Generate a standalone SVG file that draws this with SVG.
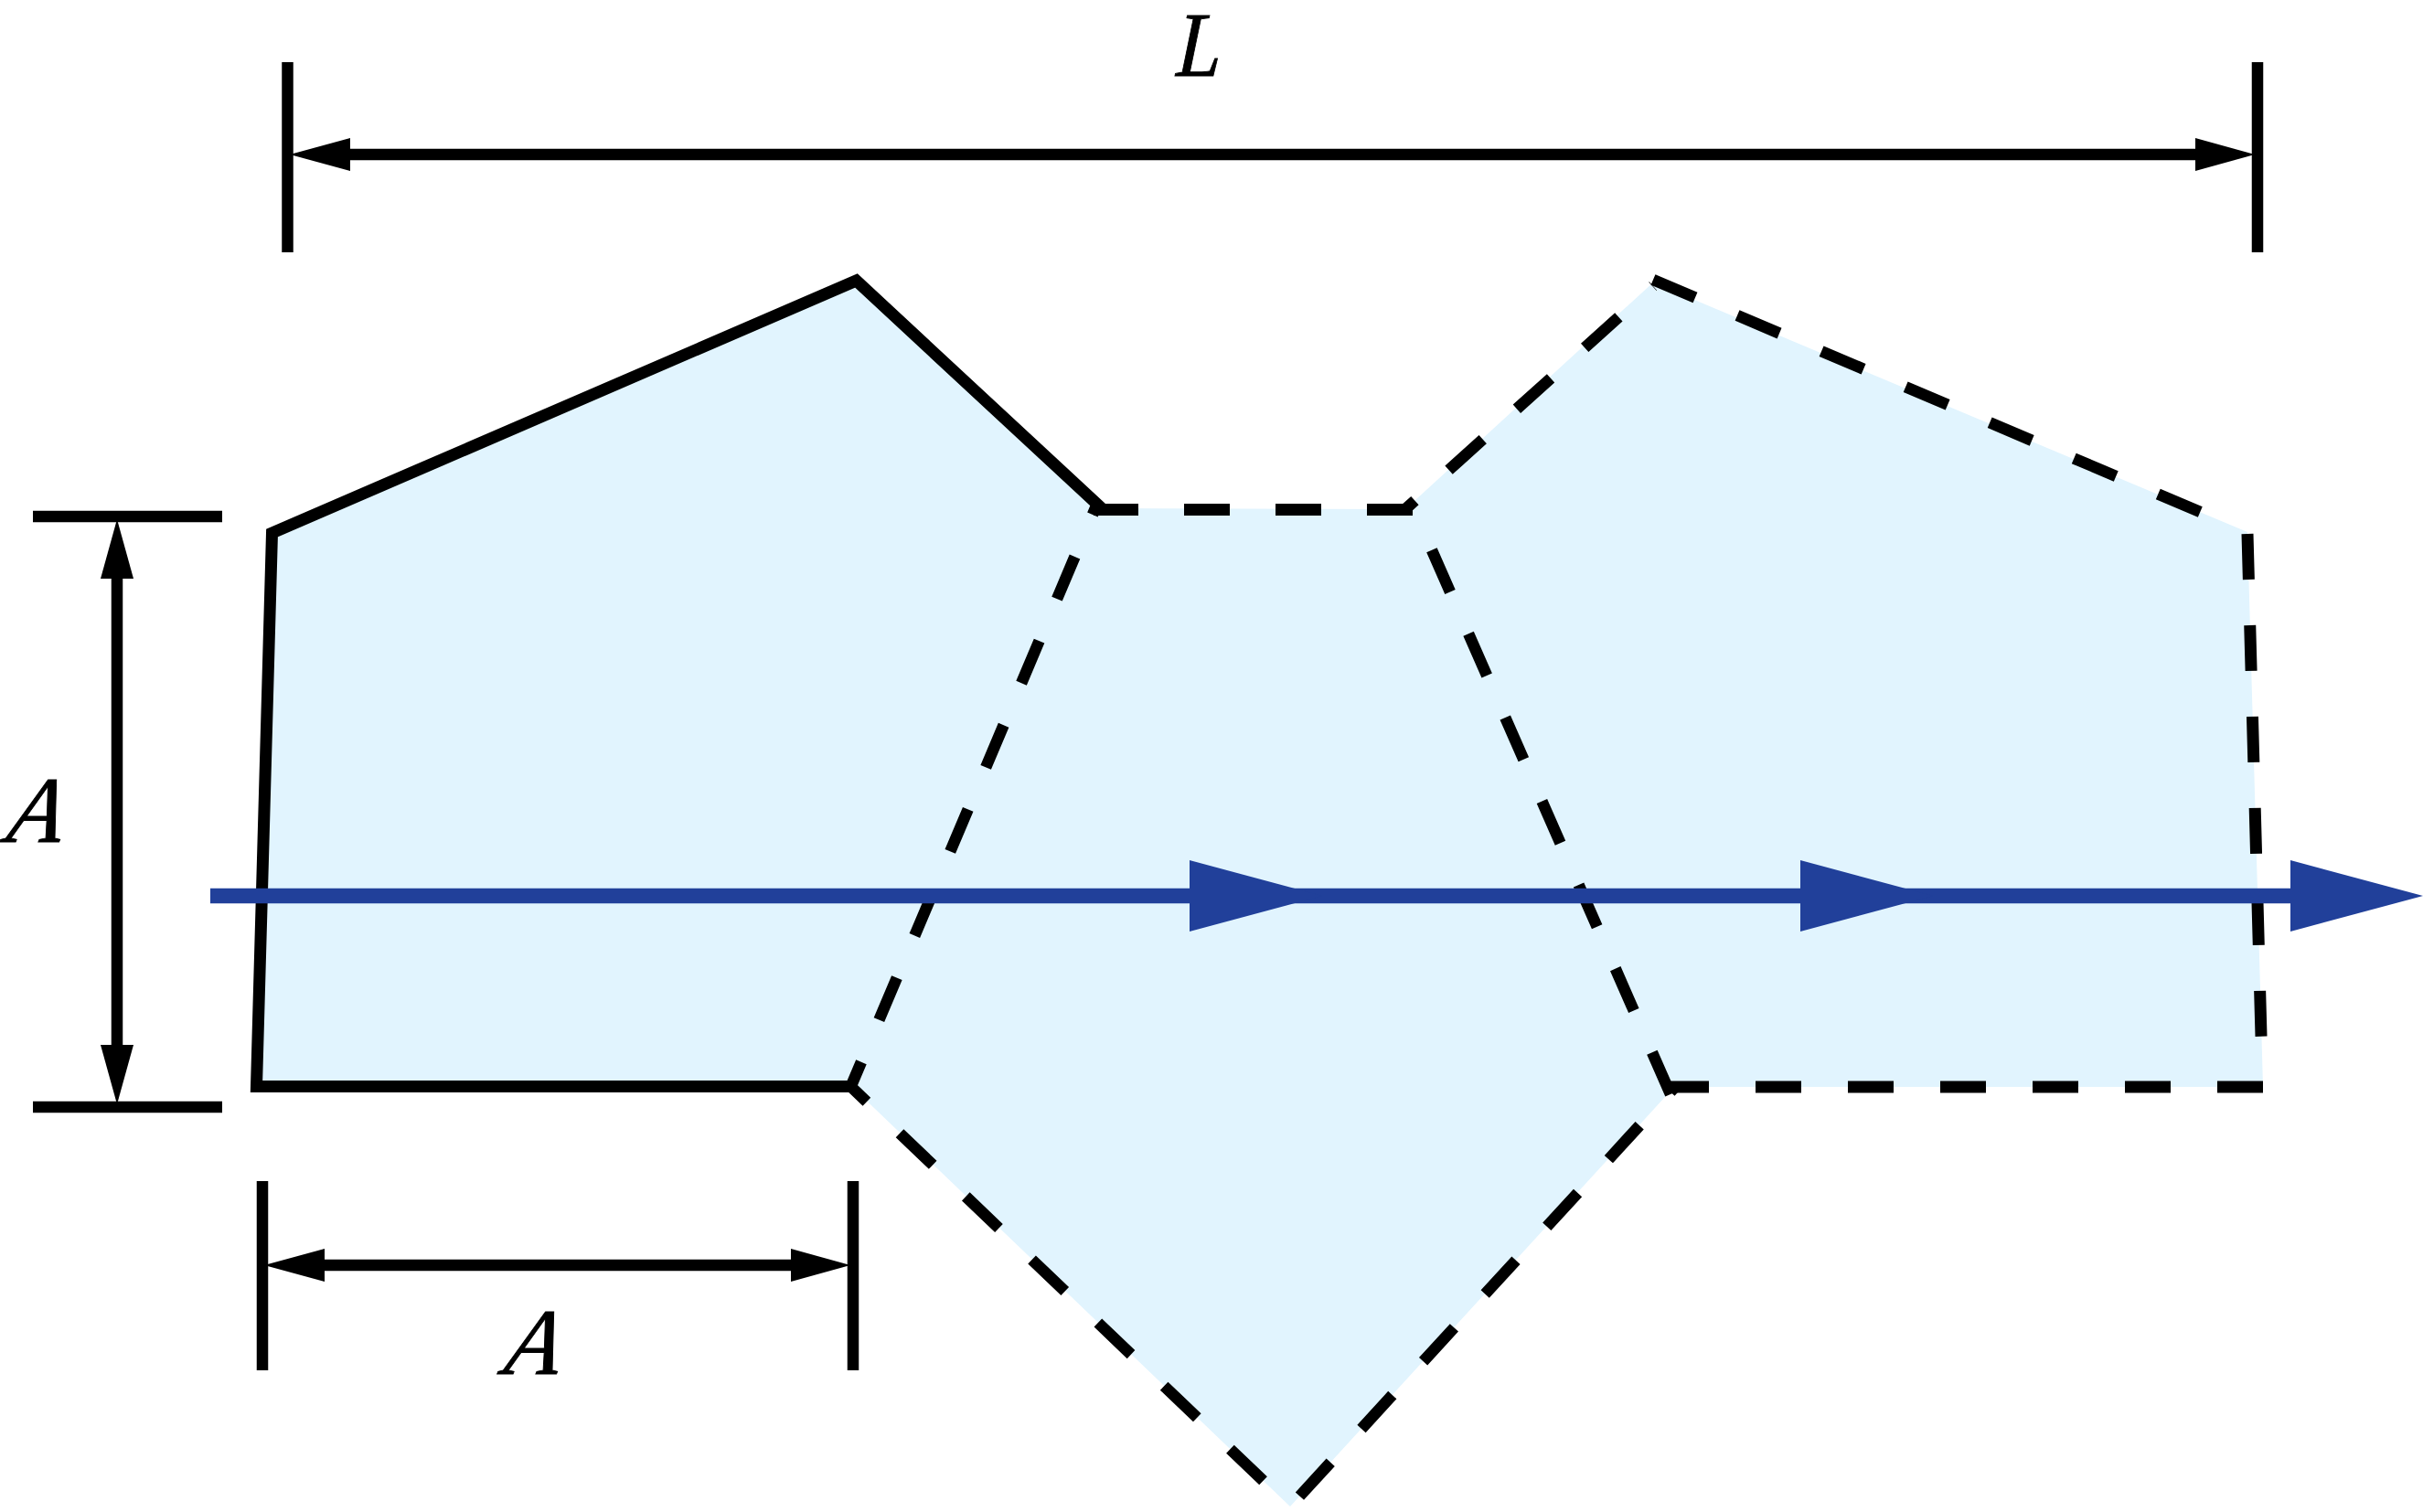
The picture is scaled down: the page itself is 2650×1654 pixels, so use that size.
<svg xmlns="http://www.w3.org/2000/svg" width="2650" height="1654" viewBox="0 0 2650 1654">
<style>
.bg{fill:#fff}
.fill{fill:#e1f4fe;stroke:none}
.solid{fill:none;stroke:#000;stroke-width:13;stroke-miterlimit:10}
.dash{fill:none;stroke:#000;stroke-width:13;stroke-dasharray:50 50}
.thin{stroke-width:12.5}
.dim{stroke:#000;stroke-width:12.5;fill:none}
.head{fill:#000}
.flow{stroke:#21409a;stroke-width:16.5;fill:none}
.flowhead{fill:#21409a}
.lab{font-family:"Liberation Serif","DejaVu Serif",serif;font-style:italic;font-size:103px;fill:#000;stroke:#000;stroke-width:1}
</style>
<rect class="bg" width="2650" height="1654"/>
<g id="region">
<polygon class="fill" points="297.5,583 936.5,307 1205,556 1537,557 1808,309 2458,582 2475,1189 1831,1189 1411,1648 932,1189 280.5,1189"/>
<polyline class="solid" points="1207,558 936.5,307 297.5,583 280.5,1188.5 932,1188.5"/>
</g>
<g id="connectors">
<line id="edge-top" class="dash" x1="1545" y1="557.5" x2="1196" y2="557.5"/>
<line id="edge-top-right1" class="dash thin" x1="1537" y1="557" x2="1808" y2="313" stroke-dashoffset="36"/>
<line id="edge-top-right2" class="dash thin" x1="1808" y1="306" x2="2450" y2="578.6"/>
<line id="edge-right" class="dash" x1="2458" y1="584" x2="2474" y2="1170"/>
<line id="edge-bottom" class="dash" style="stroke-dasharray:50 51" x1="2475" y1="1189" x2="1825" y2="1189"/>
<line id="edge-lower-right" class="dash thin" x1="1831" y1="1190" x2="1411" y2="1648" stroke-dashoffset="44"/>
<line id="edge-lower-left" class="dash thin" x1="932" y1="1190" x2="1411" y2="1648" stroke-dashoffset="28"/>
<line id="edge-inner-left" class="dash thin" x1="1200" y1="551" x2="930" y2="1190" stroke-dashoffset="37"/>
<line id="edge-inner-right" class="dash thin" x1="1827" y1="1197" x2="1552" y2="570"/>
</g>
<g id="dim-top">
<line class="dim" x1="314.5" y1="68" x2="314.5" y2="276"/>
<line class="dim" x1="2469" y1="68" x2="2469" y2="276"/>
<line class="dim" x1="370" y1="169" x2="2410" y2="169"/>
<polygon class="head" points="317,169 383,151 383,187"/>
<polygon class="head" points="2466,169 2401,151 2401,187"/>
<text class="lab" transform="translate(1286 83) skewX(-3) scale(.85 .98)">L</text>
</g>
<g id="dim-left">
<line class="dim" x1="36" y1="565" x2="243" y2="565"/>
<line class="dim" x1="36" y1="1211" x2="243" y2="1211"/>
<line class="dim" x1="128" y1="620" x2="128" y2="1150"/>
<polygon class="head" points="128,568 110,633 146,633"/>
<polygon class="head" points="128,1208 110,1143 146,1143"/>
<text class="lab" transform="translate(5 921) skewX(-12) scale(.95 1)">A</text>
</g>
<g id="dim-bottom">
<line class="dim" x1="287" y1="1292" x2="287" y2="1499"/>
<line class="dim" x1="933" y1="1292" x2="933" y2="1499"/>
<line class="dim" x1="345" y1="1384" x2="875" y2="1384"/>
<polygon class="head" points="289,1384 355,1366 355,1402"/>
<polygon class="head" points="930,1384 865,1366 865,1402"/>
<text class="lab" transform="translate(549 1503) skewX(-12) scale(.95 1)">A</text>
</g>
<g id="flow">
<line class="flow" x1="230" y1="980" x2="2520" y2="980"/>
<polygon class="flowhead" points="1301,941 1446,980 1301,1019"/>
<polygon class="flowhead" points="1969,941 2114,980 1969,1019"/>
<polygon class="flowhead" points="2505,941 2650,980 2505,1019"/>
</g>
</svg>
